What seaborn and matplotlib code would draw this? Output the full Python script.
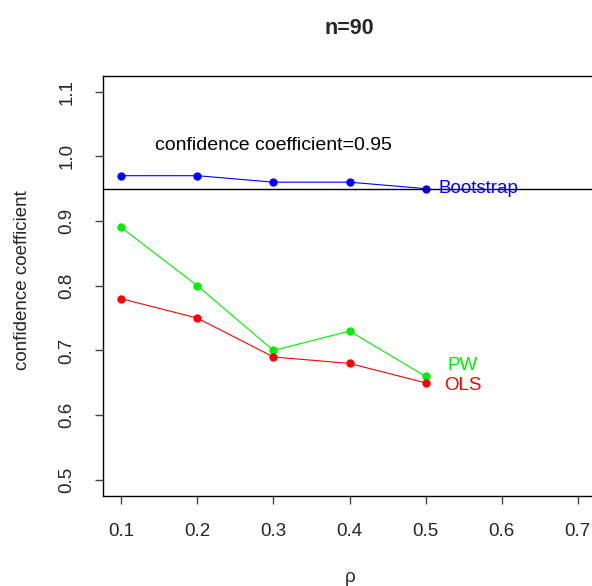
import pandas as pd
import seaborn as sns
import matplotlib
matplotlib.use("Agg")
import matplotlib.pyplot as plt

# data
rho = [0.1, 0.2, 0.3, 0.4, 0.5]
bootstrap = [0.97, 0.97, 0.96, 0.96, 0.95]
pw = [0.89, 0.80, 0.70, 0.73, 0.66]
ols = [0.78, 0.75, 0.69, 0.68, 0.65]
x_ticks = [0.1, 0.2, 0.3, 0.4, 0.5, 0.6, 0.7]
y_ticks = [0.5, 0.6, 0.7, 0.8, 0.9, 1.0, 1.1]
level = 0.95

df = pd.DataFrame({"rho": rho, "Bootstrap": bootstrap, "PW": pw, "OLS": ols})

sns.set_style("ticks")
plt.rcParams["font.family"] = ["Liberation Sans", "DejaVu Sans"]

fig = plt.figure(figsize=(5.92, 5.86), dpi=100)
ax = fig.add_axes([103 / 592, 90.5 / 586, 493 / 592, 419.5 / 586])

colors = {"Bootstrap": "#0000ff", "PW": "#00ee00", "OLS": "#ff0000"}
for name in ["Bootstrap", "PW", "OLS"]:
    sns.lineplot(data=df, x="rho", y=name, ax=ax, color=colors[name],
                 marker="o", markersize=6, markeredgewidth=0, linewidth=0.8)

ax.axhline(level, color="black", linewidth=1.0)

ax.text(0.3, 1.017, "confidence coefficient=0.95", fontsize=14,
        ha="center", va="center", color="black")
ax.text(0.517, 0.95, "Bootstrap", fontsize=13.5, ha="left", va="center",
        color=colors["Bootstrap"])
ax.text(0.549, 0.677, "PW", fontsize=13.5, ha="center", va="center",
        color=colors["PW"])
ax.text(0.549, 0.646, "OLS", fontsize=13.5, ha="center", va="center",
        color=colors["OLS"])

ax.set_xlim(0.076, 0.724)
ax.set_ylim(0.476, 1.124)
ax.set_xticks(x_ticks)
ax.set_xticklabels([f"{v:.1f}" for v in x_ticks])
ax.set_yticks(y_ticks)
ax.set_yticklabels([f"{v:.1f}" for v in y_ticks], rotation=90, va="center")
ax.tick_params(axis="both", labelsize=13.5, length=6, width=1, color="#444444")
ax.tick_params(axis="x", pad=14)
ax.tick_params(axis="y", pad=14)
for s in ax.spines.values():
    s.set_visible(True)
    s.set_linewidth(1.0)
    s.set_color("black")

ax.set_xlabel("ρ", fontsize=13.5)
ax.set_ylabel("confidence coefficient", fontsize=13.5)
ax.xaxis.set_label_coords((350 - 103) / 493, (8 - 90.5) / 419.5)
ax.yaxis.set_label_coords((23 - 103) / 493, 0.514)
ax.xaxis.label.set_va("center")
ax.yaxis.label.set_va("center")

ax.set_title("n=90", fontsize=15.5, fontweight="bold",
             y=(558 - 90.5) / 419.5, va="center", pad=0)

fig.savefig("out.png", dpi=100)
